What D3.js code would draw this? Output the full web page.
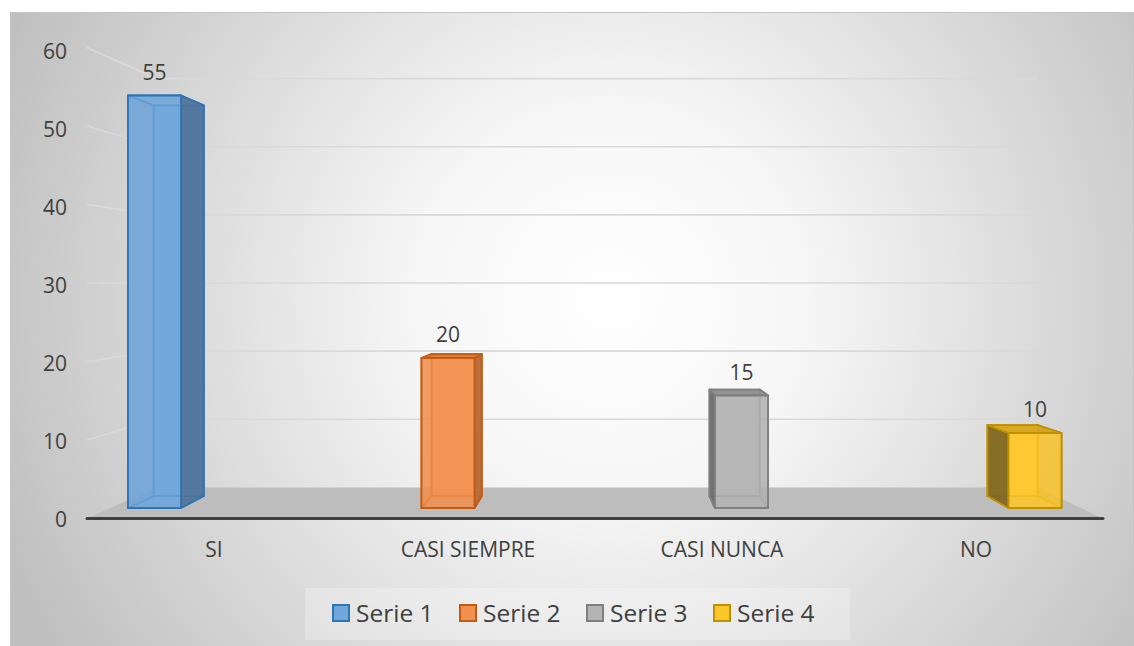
<!DOCTYPE html>
<html>
<head>
<meta charset="utf-8">
<script src="https://cdn.jsdelivr.net/npm/d3@7"></script>
<style>
  body { margin: 0; background: #fff; }
  text { font-family: "Open Sans", "Noto Sans", sans-serif; fill: #404040; }
</style>
</head>
<body>
<div id="chart-area"></div>
<script>
// Data
var categories = ["SI", "CASI SIEMPRE", "CASI NUNCA", "NO"];
var seriesNames = ["Serie 1", "Serie 2", "Serie 3", "Serie 4"];
var values = [55, 20, 15, 10];
var yTicks = [0, 10, 20, 30, 40, 50, 60];

// colours per series: front, side, top, border
var frontCol  = ["#6fa6dc", "#f2914f", "#b4b4b4", "#ffc72c"];
var sideCol   = ["#50739a", "#b5693a", "#6b6b6b", "#7d6624"];
var topCol    = ["#5a8fc4", "#d87636", "#8f8f8f", "#d6a51e"];
var borderCol = ["#2e75b6", "#c55a11", "#7f7f7f", "#bf9000"];

var width = 1134, height = 646;

// perspective: vanishing point and depth scales
var vp = [611, 283];
var wallS = 0.868,   // back wall relative to floor front
    barS  = 0.947;   // bar back face relative to bar front face

function proj(p, s) {
    return [vp[0] + s * (p[0] - vp[0]), vp[1] + s * (p[1] - vp[1])];
}

var svg = d3.select("#chart-area")
    .append("svg")
    .attr("width", width)
    .attr("height", height);

// background gradient
var defs = svg.append("defs");
var grad = defs.append("radialGradient")
    .attr("id", "bg")
    .attr("gradientUnits", "userSpaceOnUse")
    .attr("cx", 610).attr("cy", 300).attr("r", 660);
grad.append("stop").attr("offset", 0).attr("stop-color", "#ffffff");
grad.append("stop").attr("offset", 0.3).attr("stop-color", "#f6f6f6");
grad.append("stop").attr("offset", 1).attr("stop-color", "#bfbfbf");

svg.append("rect")
    .attr("x", 10.5).attr("y", 12.5)
    .attr("width", 1123).attr("height", 640)
    .attr("fill", "url(#bg)")
    .attr("stroke", "#c4c4c4");

// Scales
var yF = d3.scaleLinear().domain([0, 60]).range([518.5, 47.5]);   // floor-front plane
var xF = d3.scaleBand().domain(categories).range([87, 1103]);
var yBar = d3.scaleLinear().domain([0, 60]).range([508, 58]);     // bar front plane
var xBar = d3.scalePoint().domain(categories).range([154.5, 1035]);
var barW = 53;
var yLab = d3.scaleLinear().domain([0, 60]).range([520, 52]);

var line = d3.line();

// floor
var fL = xF.range()[0], fR = xF.range()[1];
var floorPts = [[fL, yF(0)], [fR, yF(0)], proj([fR, yF(0)], wallS), proj([fL, yF(0)], wallS)];
svg.append("path")
    .attr("d", line(floorPts) + "Z")
    .attr("fill", "#bdbdbd");

// gridlines: side wall + back wall
var grid = svg.append("g").attr("class", "grid");
yTicks.filter(function(d) { return d > 0; }).forEach(function(v) {
    var a = [fL, yF(v)];
    var b = proj([fL, yF(v)], wallS);
    var c = proj([fR, yF(v)], wallS);
    grid.append("path")
        .attr("d", line([a, b, c]))
        .attr("fill", "none")
        .attr("stroke", "#d9d9d9")
        .attr("stroke-width", 1.6);
});

// axis line at floor front
svg.append("line")
    .attr("x1", fL).attr("x2", fR)
    .attr("y1", yF(0)).attr("y2", yF(0))
    .attr("stroke", "#3f3f3f")
    .attr("stroke-width", 3)
    .attr("stroke-linecap", "round");

// bars
var bars = svg.append("g").attr("class", "bars");
categories.forEach(function(cat, i) {
    var cx = xBar(cat),
        x0 = cx - barW / 2, x1 = cx + barW / 2,
        yt = yBar(values[i]), yb = yBar(0);
    var FTL = [x0, yt], FTR = [x1, yt], FBR = [x1, yb], FBL = [x0, yb];
    var BTL = proj(FTL, barS), BTR = proj(FTR, barS),
        BBR = proj(FBR, barS), BBL = proj(FBL, barS);

    var g = bars.append("g");
    function face(pts, fill, op) {
        g.append("path")
            .attr("d", line(pts) + "Z")
            .attr("fill", fill)
            .attr("fill-opacity", op)
            .attr("stroke", borderCol[i])
            .attr("stroke-width", 1.8)
            .attr("stroke-linejoin", "round");
    }
    var rightVisible = cx < vp[0];
    var topVisible = yt > vp[1];
    var leftF = [FTL, BTL, BBL, FBL], rightF = [FTR, BTR, BBR, FBR];
    var topF = [FTL, FTR, BTR, BTL];

    // hidden faces first
    face([BTL, BTR, BBR, BBL], frontCol[i], 0.8);
    face([FBL, FBR, BBR, BBL], topCol[i], 0.3);
    face(rightVisible ? leftF : rightF, sideCol[i], 0.25);
    if (!topVisible) face(topF, topCol[i], 0.25);
    // visible faces
    face(rightVisible ? rightF : leftF, sideCol[i], 0.92);
    if (topVisible) face(topF, topCol[i], 0.92);
    face([FTL, FTR, FBR, FBL], frontCol[i], 0.82);

    // data label
    svg.append("text")
        .attr("x", cx)
        .attr("y", yt - 16)
        .attr("text-anchor", "middle")
        .style("font-size", "21px")
        .text(values[i]);
});

// y axis labels
var yAxis = d3.axisLeft(yLab).tickValues(yTicks).tickSize(0).tickPadding(0);
var yg = svg.append("g")
    .attr("transform", "translate(67,0)")
    .call(yAxis);
yg.select(".domain").remove();
yg.selectAll("text")
    .style("font-size", "21px")
    .style("font-family", "'Open Sans', sans-serif")
    .attr("fill", "#404040");

// x axis labels
var xAxis = d3.axisBottom(xF).tickSize(0).tickPadding(24);
var xg = svg.append("g")
    .attr("transform", "translate(0," + yF(0) + ")")
    .call(xAxis);
xg.select(".domain").remove();
xg.selectAll("text")
    .style("font-size", "21px")
    .style("font-family", "'Open Sans', sans-serif")
    .attr("fill", "#404040");

// legend
svg.append("rect")
    .attr("x", 305).attr("y", 588)
    .attr("width", 545).attr("height", 52)
    .attr("fill", "#ffffff")
    .attr("fill-opacity", 0.25);

var xLeg = d3.scalePoint().domain(seriesNames).range([333, 714]);
var leg = svg.append("g").attr("class", "legend");
seriesNames.forEach(function(name, i) {
    leg.append("rect")
        .attr("x", xLeg(name)).attr("y", 605)
        .attr("width", 16).attr("height", 16)
        .attr("fill", frontCol[i])
        .attr("stroke", borderCol[i])
        .attr("stroke-width", 2);
    leg.append("text")
        .attr("x", xLeg(name) + 23)
        .attr("y", 622)
        .style("font-size", "24.5px")
        .text(name);
});
</script>
</body>
</html>
